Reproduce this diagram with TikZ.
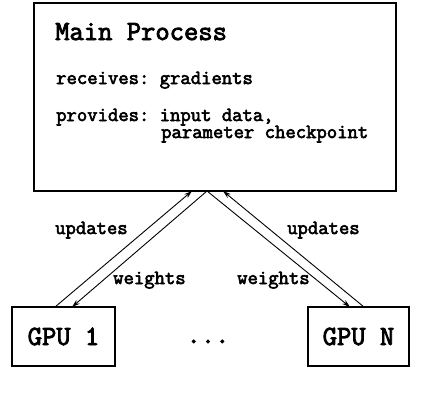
\documentclass[tikz,border=0pt]{standalone}
\usepackage{fontspec}
\setmonofont{Latin Modern Mono}[AutoFakeBold=3]
\usetikzlibrary{arrows.meta}
\begin{document}
\begin{tikzpicture}[x=1pt,y=-1pt,
  boxstyle/.style={draw,line width=1.4pt,inner sep=0pt},
  bigtxt/.style={font=\ttfamily\bfseries\fontsize{27.8}{32}\selectfont,inner sep=0pt},
  smalltxt/.style={font=\ttfamily\bfseries\fontsize{20.1}{24}\selectfont,inner sep=0pt,anchor=base west},
  conn/.style={line width=0.9pt,-{Stealth[length=8pt,width=5pt]}},
]
\useasboundingbox (0,0) rectangle (446,400);
% main process box
\node[boxstyle,minimum width=362pt,minimum height=188pt] (main) at (215,97) {};
\node[bigtxt,anchor=base west] (title) at (55,40) {Main Process};
\node[smalltxt] (recv) at (56,84) {receives: gradients};
\node[smalltxt] (prov) at (56,121) {provides: input data,};
\node[smalltxt] (param) at (161,138) {parameter checkpoint};
% GPU boxes
\node[boxstyle,bigtxt,minimum width=103pt,minimum height=59pt] (gpu1) at (63.5,336.5) {GPU 1};
\node[boxstyle,bigtxt,minimum width=101pt,minimum height=59pt] (gpun) at (358.5,336.5) {GPU N};
\node[bigtxt,anchor=base] (dots) at (208,343) {...};
% connector end points
\coordinate (apex) at (207,191);
\coordinate (lin) at (192,191);
\coordinate (rin) at (223,191);
\coordinate (g1out) at (55,307);
\coordinate (g1in) at (72,307);
\coordinate (gnin) at (350,307);
\coordinate (gnout) at (364,307);
% connectors
\draw[conn] (g1out) -- (lin);
\draw[conn] (apex) -- (g1in);
\draw[conn] (apex) -- (gnin);
\draw[conn] (gnout) -- (rin);
% labels
\node[smalltxt] (upl) at (55,234) {updates};
\node[smalltxt] (wl) at (113,284) {weights};
\node[smalltxt] (upr) at (287,234) {updates};
\node[smalltxt] (wr) at (237,284) {weights};
\end{tikzpicture}
\end{document}
